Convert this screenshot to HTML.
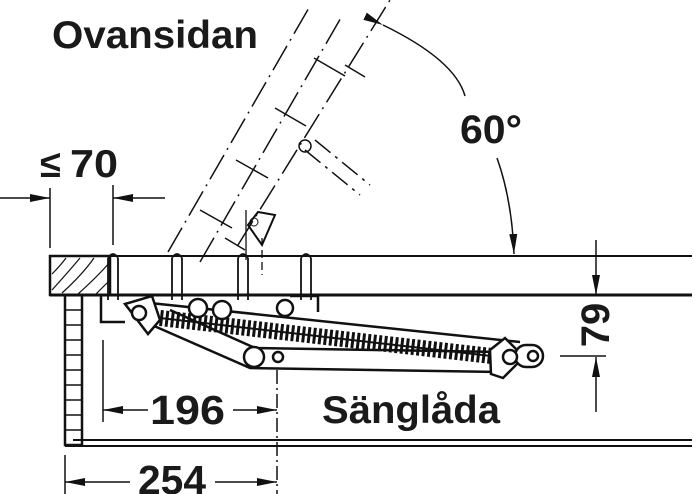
<!DOCTYPE html>
<html><head><style>
html,body{margin:0;padding:0;background:#fff;}
svg{display:block;}
text{font-family:"Liberation Sans",sans-serif;font-weight:bold;fill:#1a1a1a;}
</style></head><body>
<svg width="700" height="494" viewBox="0 0 700 494" xmlns="http://www.w3.org/2000/svg">
<defs>
<marker id="ab" viewBox="0 0 20 8" refX="20" refY="4" markerWidth="20" markerHeight="8" markerUnits="userSpaceOnUse" orient="auto">
<path d="M0,0 L20,4 L0,8 z" fill="#111"/></marker>
</defs>
<g stroke="#111" fill="none">
<g stroke-width="1.5" stroke-dasharray="28 6 2 6">
<line x1="168" y1="252" x2="310" y2="6"/>
<line x1="200" y1="262" x2="342" y2="16"/>
<line x1="238" y1="245" x2="390" y2="0"/>
</g>
<g stroke-width="1.5">
<line x1="200" y1="210" x2="232" y2="228"/>
<line x1="236" y1="160" x2="268" y2="178"/>
<line x1="275" y1="108" x2="306" y2="126"/>
<line x1="314" y1="58" x2="345" y2="76"/>
<line x1="345" y1="65" x2="365" y2="77"/>
<line x1="225" y1="238" x2="245" y2="250"/>
<path d="M305,150 L360,195 M315,140 L370,185" stroke-dasharray="20 6 3 6"/>
<circle cx="305" cy="146" r="6"/>
</g>
<path d="M248,225 L258,212 L275,215 L262,245 Z" stroke-width="2"/>
<circle cx="254" cy="222" r="4"/>
<line x1="246" y1="210" x2="246" y2="260" stroke-width="1.3"/>
<line x1="262" y1="238" x2="262" y2="275" stroke-width="1.3" stroke-dasharray="8 4"/>
<path d="M383,25 Q455,60 465,96" stroke-width="1.5" marker-start="url(#ab)"/>
<path d="M497,158 Q512,200 514,254" stroke-width="1.5" marker-end="url(#ab)"/>
<line x1="50" y1="256" x2="692" y2="256" stroke-width="2"/>
<line x1="50" y1="295" x2="692" y2="295" stroke-width="3"/>
<rect x="50" y="256" width="60" height="39" stroke-width="2.5"/>
<g stroke-width="1.2">
<path d="M52,290 Q70,270 80,258 M62,293 Q82,275 94,258 M78,294 Q98,276 110,262 M52,274 Q60,266 66,258 M96,294 Q104,286 110,280"/>
</g>
<g stroke-width="1.8">
<path d="M108,258 L108,300 M118,258 L118,300 M172,258 L172,300 M182,258 L182,300 M238,258 L238,300 M248,258 L248,300 M301,258 L301,300 M311,258 L311,300"/>
<path d="M108,258 Q113,250 118,258 M172,258 Q177,250 182,258 M238,258 Q243,250 248,258 M301,258 Q306,250 311,258"/>
</g>
<rect x="65" y="295" width="17" height="150" stroke-width="2.5"/>
<g stroke-width="1.5">
<path d="M65,310H82M65,325H82M65,340H82M65,355H82M65,370H82M65,385H82M65,400H82M65,415H82M65,430H82"/>
</g>
<line x1="73" y1="440" x2="692" y2="440" stroke-width="2"/>
<line x1="65" y1="446" x2="692" y2="446" stroke-width="2"/>
<path d="M101,296 L101,322 L125,322 M290,296 L318,296 L318,312" stroke-width="2.5"/>
<g stroke-width="2.5">
<path d="M150,303 L520,342"/>
<path d="M145,322 L250,368 L500,372"/>
<path d="M170,310 L255,348 L500,352"/>
</g>
<line x1="160" y1="318" x2="500" y2="357" stroke-width="16" stroke-dasharray="3 2.5"/>
<line x1="160" y1="318" x2="500" y2="357" stroke-width="2"/>
<g stroke-width="2.5" fill="#fff">
<path d="M125,304 L152,296 L160,320 L148,334 Z"/>
<circle cx="139" cy="313" r="7"/>
<circle cx="198" cy="308" r="9"/>
<circle cx="222" cy="310" r="9"/>
<circle cx="285" cy="308" r="8"/>
<circle cx="254" cy="357" r="10"/>
<circle cx="278" cy="357" r="5"/>
<path d="M490,350 L505,338 L524,357 L503,378 L491,374 Z"/>
<rect x="515" y="345" width="28" height="22" rx="11"/>
<circle cx="510" cy="357" r="7"/>
<circle cx="533" cy="356" r="5"/>
</g>
<g stroke-width="1.5">
<line x1="50" y1="188" x2="50" y2="248"/>
<line x1="113" y1="185" x2="113" y2="245"/>
<line x1="0" y1="198" x2="50" y2="198" marker-end="url(#ab)"/>
<line x1="165" y1="198" x2="113" y2="198" marker-end="url(#ab)"/>
<line x1="103" y1="340" x2="103" y2="422"/>
<line x1="277" y1="370" x2="277" y2="494" stroke-dasharray="14 4 2 4"/>
<line x1="148" y1="410" x2="103" y2="410" marker-end="url(#ab)"/>
<line x1="233" y1="410" x2="277" y2="410" marker-end="url(#ab)"/>
<line x1="65" y1="455" x2="65" y2="494"/>
<line x1="130" y1="482" x2="65" y2="482" marker-end="url(#ab)"/>
<line x1="215" y1="482" x2="277" y2="482" marker-end="url(#ab)"/>
<line x1="596" y1="240" x2="596" y2="295" marker-end="url(#ab)"/>
<line x1="596" y1="412" x2="596" y2="357" marker-end="url(#ab)"/>
<line x1="560" y1="356" x2="606" y2="356"/>
</g>
</g>
<text x="52" y="48" font-size="39" textLength="206" lengthAdjust="spacingAndGlyphs">Ovansidan</text>
<text x="460" y="143" font-size="40" textLength="62" lengthAdjust="spacingAndGlyphs">60°</text>
<text x="40" y="177" font-size="38">≤</text>
<text x="70" y="177" font-size="39" textLength="48" lengthAdjust="spacingAndGlyphs">70</text>
<text x="150" y="424" font-size="41" textLength="75" lengthAdjust="spacingAndGlyphs">196</text>
<text x="138" y="494" font-size="41" textLength="68" lengthAdjust="spacingAndGlyphs">254</text>
<text x="322" y="423" font-size="39" textLength="178" lengthAdjust="spacingAndGlyphs">Sänglåda</text>
<text transform="translate(609,325) rotate(-90)" text-anchor="middle" font-size="40">79</text>
</svg>
</body></html>
